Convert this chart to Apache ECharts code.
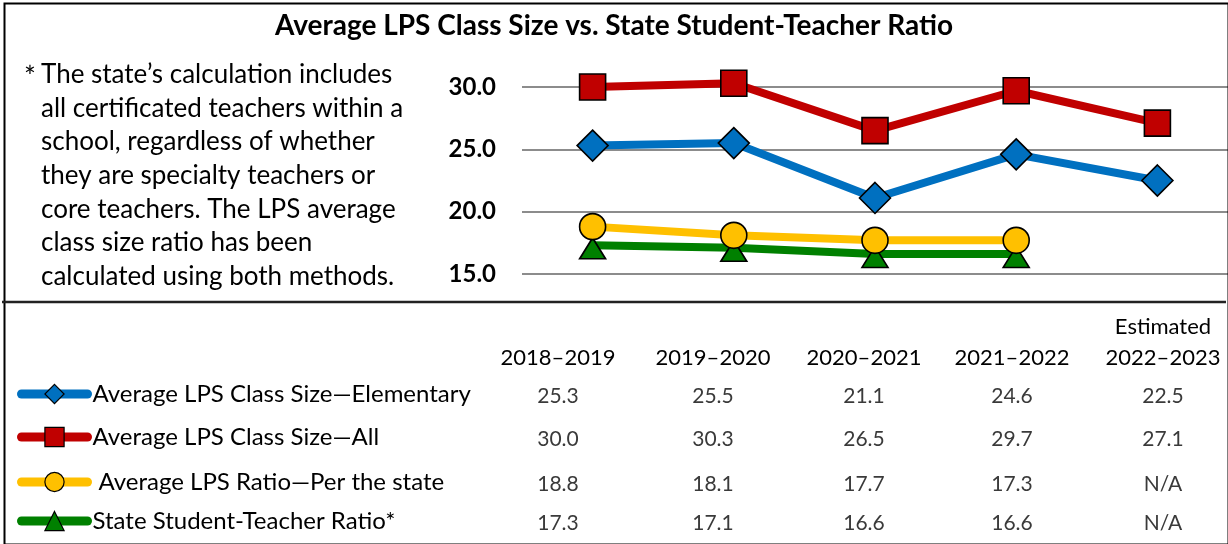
<!DOCTYPE html>
<html>
<head>
<meta charset="utf-8">
<script src="https://cdn.jsdelivr.net/npm/echarts@6/dist/echarts.min.js"></script>
<style>
  html, body { margin: 0; padding: 0; background: #fff; }
  #main { width: 1228px; height: 544px; }
</style>
</head>
<body>
<div id="main"></div>
<script>
// data
var years = ['2018–2019', '2019–2020', '2020–2021', '2021–2022', '2022–2023'];
var yearHeads = ['2018–2019', '2019–2020', '2020–2021', '2021–2022', 'Estimated\n2022–2023'];
var names = [
    'Average LPS Class Size—Elementary',
    'Average LPS Class Size—All',
    'Average LPS Ratio—Per the state',
    'State Student-Teacher Ratio*'
];
var elementary = [25.3, 25.5, 21.1, 24.6, 22.5];
var allSize = [30.0, 30.3, 26.5, 29.7, 27.1];
var lpsRatio = [18.8, 18.1, 17.7, 17.7];      // as plotted
var stateRatio = [17.3, 17.1, 16.6, 16.6];
// table text (the table says 17.3 where the line sits at 17.7)
var tableRows = [
    ['25.3', '25.5', '21.1', '24.6', '22.5'],
    ['30.0', '30.3', '26.5', '29.7', '27.1'],
    ['18.8', '18.1', '17.7', '17.3', 'N/A'],
    ['17.3', '17.1', '16.6', '16.6', 'N/A']
];
var yTicks = [15, 20, 25, 30];
var note = 'The state’s calculation includes\nall certificated teachers within a\nschool, regardless of whether\nthey are specialty teachers or\ncore teachers. The LPS average\nclass size ratio has been\ncalculated using both methods.';

var colors = ['#0070C0', '#C00000', '#FFC000', '#008000'];
var symbols = ['diamond', 'rect', 'circle', 'triangle'];
var symbolSizes = [[31, 31], [26, 26], [26, 26], [26, 21]];
var font = 'Lato';

var myChart = echarts.init(document.getElementById('main'));

var seriesData = [elementary, allSize, lpsRatio, stateRatio];
var series = [];
for (var i = 0; i < names.length; i++) {
    series.push({
        name: names[i],
        type: 'line',
        data: seriesData[i],
        clip: false,
        z: i == 2 ? 4 : 2,
        symbol: symbols[i],
        symbolSize: symbolSizes[i],
        symbolOffset: i == 3 ? [0, 3] : [0, 0],
        lineStyle: { color: colors[i], width: 8 },
        itemStyle: { color: colors[i], borderColor: '#000', borderWidth: 1.6 },
        emphasis: { disabled: true }
    });
}

// one legend per table row
var rowY = [396, 439, 484, 523];
var legends = [];
for (var i = 0; i < names.length; i++) {
    legends.push({
        data: [names[i]],
        left: 17,
        top: rowY[i] - 14,
        padding: 0,
        itemWidth: 66,
        itemHeight: 24,
        selectedMode: false,
        textStyle: {
            fontFamily: font, fontSize: 24, color: '#000',
            padding: i == 2 ? [0, 0, 0, 6] : 0
        },
        lineStyle: { width: 9, cap: 'round' },
        itemStyle: { borderColor: '#000', borderWidth: 1.2 }
    });
}

var graphics = [];
// frame and separator
graphics.push({
    type: 'rect', left: 2, top: 1, z: 10, silent: true,
    shape: { width: 1224, height: 541 },
    style: { fill: null, stroke: '#000', lineWidth: 2 }
});
graphics.push({
    type: 'line', z: 10, silent: true,
    shape: { x1: 2, y1: 302, x2: 1226, y2: 302 },
    style: { stroke: '#222', lineWidth: 2.5 }
});
// note text
graphics.push({
    type: 'text', left: 24, top: 64,
    style: { text: '*', fontFamily: font, fontSize: 28, fill: '#000' }
});
graphics.push({
    type: 'text', left: 41, top: 58,
    style: { text: note, fontFamily: font, fontSize: 26, lineHeight: 33.6, fill: '#000' }
});
// table header and values
var colX = [558, 713, 864, 1012, 1163];
for (var c = 0; c < yearHeads.length; c++) {
    var head = yearHeads[c].split('\n');
    for (var k = 0; k < head.length; k++) {
        graphics.push({
            type: 'text', x: colX[c], y: 358 - (head.length - 1 - k) * 31,
            style: {
                text: head[k], fontFamily: font, fontSize: 22, fill: '#000',
                align: 'center', verticalAlign: 'middle'
            }
        });
    }
    for (var r = 0; r < tableRows.length; r++) {
        graphics.push({
            type: 'text', x: colX[c], y: rowY[r],
            style: {
                text: tableRows[r][c], fontFamily: font, fontSize: 21, fill: '#3a3a3a',
                align: 'center', verticalAlign: 'middle'
            }
        });
    }
}

var option = {
    animation: false,
    title: {
        text: 'Average LPS Class Size vs. State Student-Teacher Ratio',
        left: 'center',
        top: 7,
        textStyle: { fontFamily: font, fontSize: 28, fontWeight: 'bold', color: '#000' }
    },
    legend: legends,
    grid: { left: 522, right: 0, top: 87, bottom: 270, containLabel: false },
    xAxis: {
        type: 'category',
        data: years,
        boundaryGap: true,
        axisLine: { show: false },
        axisTick: { show: false },
        axisLabel: { show: false }
    },
    yAxis: {
        type: 'value',
        min: yTicks[0],
        max: yTicks[yTicks.length - 1],
        interval: 5,
        axisLine: { show: false },
        axisTick: { show: false },
        axisLabel: {
            margin: 26,
            fontFamily: font, fontSize: 24, fontWeight: 'bold', color: '#000',
            formatter: function (v) { return v.toFixed(1); }
        },
        splitLine: { lineStyle: { color: '#8c8c8c', width: 2 } }
    },
    graphic: graphics,
    series: series
};

myChart.setOption(option);
</script>
</body>
</html>
